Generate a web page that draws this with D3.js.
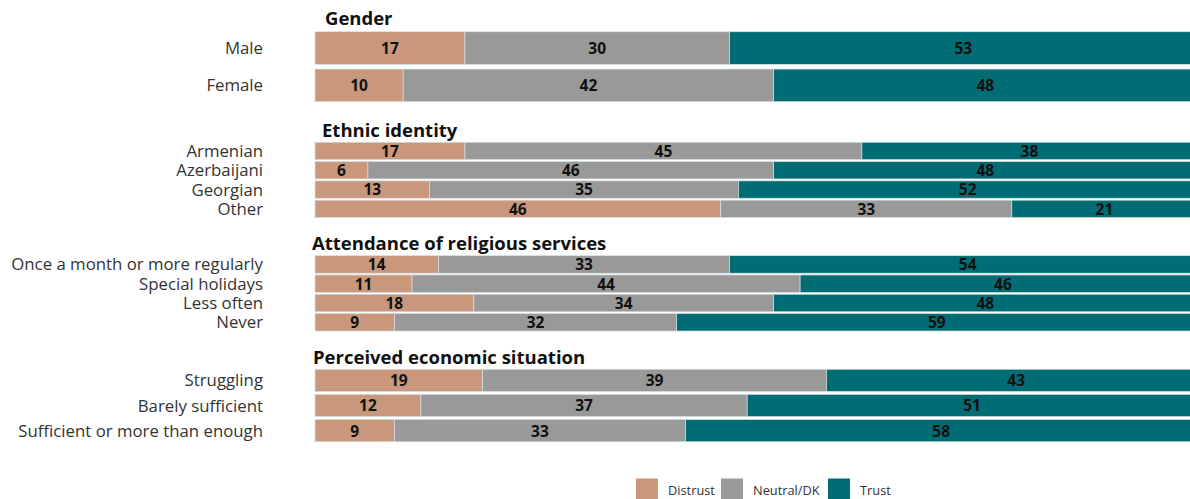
<!DOCTYPE html>
<html>
<head>
<meta charset="utf-8">
<script src="https://cdn.jsdelivr.net/npm/d3@7"></script>
<style>
  body { margin: 0; background: #fff; }
  svg { display: block; }
</style>
</head>
<body>
<svg id="chart" width="1190" height="499"></svg>
<script>
// ---- data ----
const seriesNames = ["Distrust", "Neutral/DK", "Trust"];
const groupTitles = ["Gender", "Ethnic identity", "Attendance of religious services", "Perceived economic situation"];
const groupCategories = [
  ["Male", "Female"],
  ["Armenian", "Azerbaijani", "Georgian", "Other"],
  ["Once a month or more regularly", "Special holidays", "Less often", "Never"],
  ["Struggling", "Barely sufficient", "Sufficient or more than enough"]
];
const distrustValues = [[17, 10], [17, 6, 13, 46], [14, 11, 18, 9], [19, 12, 9]];
const neutralValues  = [[30, 42], [45, 46, 35, 33], [33, 44, 34, 32], [39, 37, 33]];
const trustValues    = [[53, 48], [38, 48, 52, 21], [54, 46, 48, 59], [43, 51, 58]];

// ---- layout ----
const FONT = "'Open Sans', 'Noto Sans', sans-serif";
const colors = ["#c9977c", "#999999", "#006c73"];
// vertical extent of each panel's bar area, and where its heading sits
const panels = [
  { range: [29.4, 104.0], pad: 0.126, titleX: 325, titleY: 24.5 },
  { range: [141.3, 218.5], pad: 0.10, titleX: 322, titleY: 136.5 },
  { range: [254.8, 331.9], pad: 0.09, titleX: 312, titleY: 250 },
  { range: [367.8, 443.2], pad: 0.116, titleX: 313, titleY: 363.5 }
];

const svg = d3.select("#chart");
const x = d3.scaleLinear().domain([0, 100]).range([315, 1197]);

const series = [distrustValues, neutralValues, trustValues];

groupTitles.forEach((title, gi) => {
  const p = panels[gi];
  const cats = groupCategories[gi];
  const y = d3.scaleBand().domain(cats).range(p.range)
    .paddingInner(p.pad).paddingOuter(p.pad / 2);

  const rows = cats.map((c, i) => {
    const row = { category: c };
    seriesNames.forEach((s, si) => { row[s] = series[si][gi][i]; });
    return row;
  });
  const stacked = d3.stack().keys(seriesNames)(rows);

  const g = svg.append("g");

  // heading
  g.append("text")
    .attr("x", p.titleX).attr("y", p.titleY)
    .attr("font-family", FONT).attr("font-weight", 700)
    .attr("font-size", 18.5).attr("fill", "#111")
    .text(title);

  // category labels
  g.selectAll("text.cat").data(cats).join("text")
    .attr("class", "cat")
    .attr("x", 263)
    .attr("y", d => y(d) + y.bandwidth() / 2)
    .attr("dy", "0.36em")
    .attr("text-anchor", "end")
    .attr("font-family", FONT).attr("font-size", 16.8)
    .attr("fill", "#333")
    .text(d => d);

  // stacked segments
  stacked.forEach((layer, si) => {
    g.selectAll(null).data(layer).join("rect")
      .attr("x", d => x(d[0]))
      .attr("y", d => y(d.data.category))
      .attr("width", d => x(d[1]) - x(d[0]))
      .attr("height", y.bandwidth())
      .attr("fill", colors[si])
      .attr("stroke", "#d6e0e3")
      .attr("stroke-width", 0.7);
  });

  // value labels, centred in each segment
  stacked.forEach((layer) => {
    g.selectAll(null).data(layer).join("text")
      .attr("x", d => (x(d[0]) + x(d[1])) / 2)
      .attr("y", d => y(d.data.category) + y.bandwidth() / 2)
      .attr("dy", "0.38em")
      .attr("text-anchor", "middle")
      .attr("font-family", FONT).attr("font-weight", 700)
      .attr("font-size", 15.5).attr("fill", "#111")
      .text(d => d[1] - d[0]);
  });
});

// ---- legend ----
const legendX = [636, 721, 828];
const legend = svg.append("g");
seriesNames.forEach((s, i) => {
  legend.append("rect")
    .attr("x", legendX[i]).attr("y", 478.5)
    .attr("width", 22).attr("height", 22)
    .attr("fill", colors[i]);
  legend.append("text")
    .attr("x", legendX[i] + 32).attr("y", 495)
    .attr("font-family", FONT).attr("font-size", 12.8)
    .attr("fill", "#333")
    .text(s);
});
</script>
</body>
</html>
